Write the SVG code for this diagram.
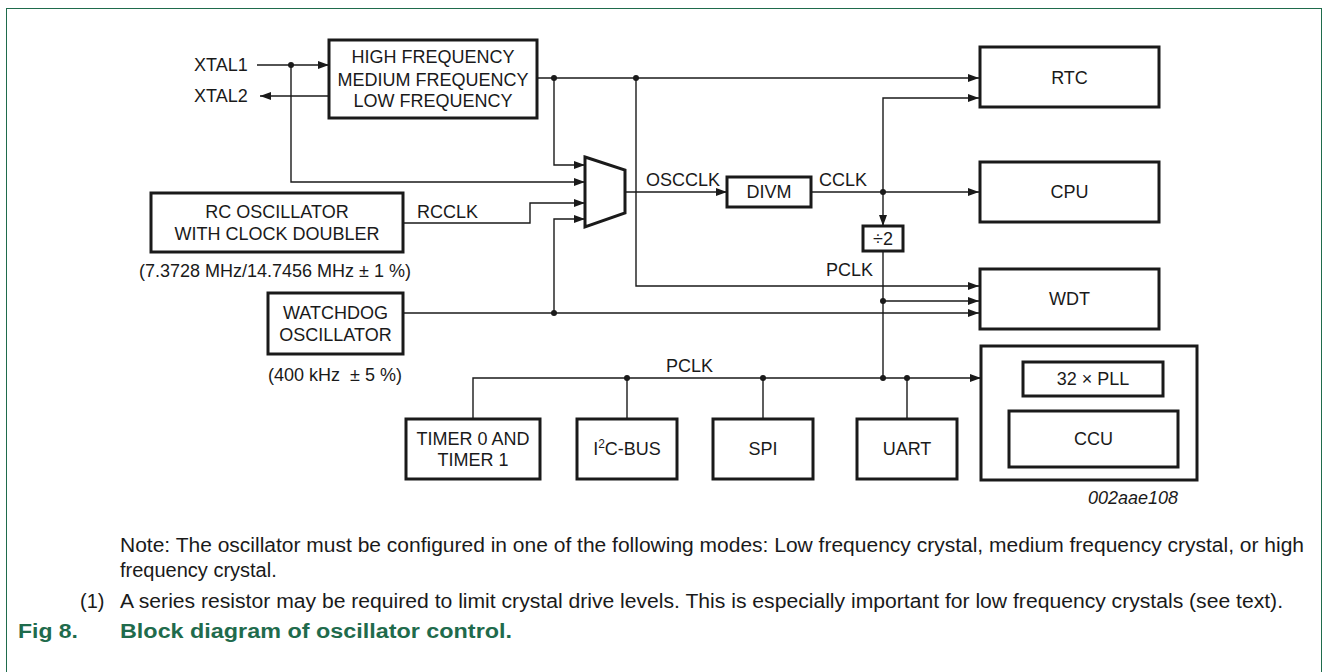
<svg xmlns="http://www.w3.org/2000/svg" width="1328" height="672" viewBox="0 0 1328 672">
<style>
text{font-family:"Liberation Sans",Arial,sans-serif;font-size:18px;fill:#1a1a1a}
.c{text-anchor:middle}
.box{fill:#fff;stroke:#1a1a1a;stroke-width:3}
.ln{fill:none;stroke:#1a1a1a;stroke-width:1.4}
.ar{marker-end:url(#ah)}
.dot{fill:#1a1a1a}
.note{font-size:20px}
.cap{font-weight:bold;fill:#1f6b4c;font-size:20px}
</style>
<defs>
<marker id="ah" markerUnits="userSpaceOnUse" markerWidth="11" markerHeight="8" refX="11" refY="4" orient="auto">
<path d="M0,0 L11,4 L0,8 z" fill="#1a1a1a"/>
</marker>
</defs>
<rect width="1328" height="672" fill="#fff"/>
<rect x="6.5" y="8.5" width="1315" height="680" fill="none" stroke="#1f6b4c" stroke-width="1"/>

<g id="connectors">
<path class="ln ar" d="M257,65 H329"/>
<path class="ln ar" d="M329,96 H260"/>
<path class="ln ar" d="M291,65 V182 H585"/>
<path class="ln ar" d="M537,78 H979"/>
<path class="ln ar" d="M554,78 V165 H585"/>
<path class="ln ar" d="M403,223 H530 V203 H585"/>
<path class="ln ar" d="M403,313 H979"/>
<path class="ln ar" d="M554,313 V219 H585"/>
<path class="ln ar" d="M636,78 V286 H979"/>
<path class="ln ar" d="M625,192 H727"/>
<path class="ln ar" d="M811,192 H979"/>
<path class="ln ar" d="M883,192 V98 H979"/>
<path class="ln ar" d="M883,192 V226"/>
<path class="ln" d="M883,251 V378"/>
<path class="ln ar" d="M883,301 H979"/>
<path class="ln ar" d="M473,419 V378 H981"/>
<path class="ln" d="M981,378 H1023"/>
<path class="ln" d="M997,378 V431 H1009"/>
<path class="ln" d="M627,378 V419 M763,378 V419 M907,378 V419"/>
<path class="ln" d="M1094,396 V411"/>
<circle class="dot" cx="291" cy="65" r="3"/>
<circle class="dot" cx="554" cy="78" r="3"/>
<circle class="dot" cx="636" cy="78" r="3"/>
<circle class="dot" cx="554" cy="313" r="3"/>
<circle class="dot" cx="883" cy="192" r="3"/>
<circle class="dot" cx="883" cy="301" r="3"/>
<circle class="dot" cx="883" cy="378" r="3"/>
<circle class="dot" cx="627" cy="378" r="3"/>
<circle class="dot" cx="763" cy="378" r="3"/>
<circle class="dot" cx="907" cy="378" r="3"/>
<circle class="dot" cx="997" cy="378" r="3"/>
<text x="194" y="71">XTAL1</text>
<text x="194" y="102">XTAL2</text>
<text x="417" y="218">RCCLK</text>
<text x="646" y="186">OSCCLK</text>
<text x="819" y="186">CCLK</text>
<text x="873" y="276" text-anchor="end">PCLK</text>
<text x="666" y="372">PCLK</text>
</g>

<g id="osc">
<rect class="box" x="329" y="40" width="208" height="78"/>
<text class="c" x="433" y="63">HIGH FREQUENCY</text>
<text class="c" x="433" y="86">MEDIUM FREQUENCY</text>
<text class="c" x="433" y="107">LOW FREQUENCY</text>
</g>
<g id="rcosc">
<rect class="box" x="151" y="193" width="252" height="59"/>
<text class="c" x="277" y="218">RC OSCILLATOR</text>
<text class="c" x="277" y="240">WITH CLOCK DOUBLER</text>
<text class="c" x="275" y="277">(7.3728 MHz/14.7456 MHz ± 1 %)</text>
</g>
<g id="wdosc">
<rect class="box" x="268" y="293" width="135" height="61"/>
<text class="c" x="335.5" y="319">WATCHDOG</text>
<text class="c" x="335.5" y="341">OSCILLATOR</text>
<text class="c" x="335" y="381">(400 kHz&#160; ± 5 %)</text>
</g>
<g id="mux">
<polygon points="585,157 625,170 625,213 585,227" fill="#fff" stroke="#1a1a1a" stroke-width="3"/>
</g>
<g id="divm">
<rect class="box" x="727" y="177" width="84" height="30"/>
<text class="c" x="769" y="198">DIVM</text>
</g>
<g id="div2">
<rect class="box" x="863" y="226" width="40" height="25"/>
<text class="c" x="883" y="245">÷2</text>
</g>
<g id="rtc">
<rect class="box" x="980" y="47" width="179" height="60"/>
<text class="c" x="1069.5" y="84">RTC</text>
</g>
<g id="cpu">
<rect class="box" x="980" y="162" width="179" height="60"/>
<text class="c" x="1069.5" y="198">CPU</text>
</g>
<g id="wdt">
<rect class="box" x="980" y="269" width="179" height="60"/>
<text class="c" x="1069.5" y="305">WDT</text>
</g>
<g id="timer">
<rect class="box" x="406" y="419" width="134" height="60"/>
<text class="c" x="473" y="445">TIMER 0 AND</text>
<text class="c" x="473" y="466">TIMER 1</text>
</g>
<g id="i2c">
<rect class="box" x="577" y="419" width="100" height="60"/>
<text class="c" x="627" y="455">I<tspan font-size="12" dy="-7">2</tspan><tspan dy="7">C-BUS</tspan></text>
</g>
<g id="spi">
<rect class="box" x="713" y="419" width="100" height="60"/>
<text class="c" x="763" y="455">SPI</text>
</g>
<g id="uart">
<rect class="box" x="857" y="419" width="100" height="60"/>
<text class="c" x="907" y="455">UART</text>
</g>
<g id="pllblock">
<rect class="box" x="981" y="346" width="216" height="134"/>
<rect class="box" x="1023" y="362" width="140" height="34"/>
<text class="c" x="1093" y="385">32 × PLL</text>
<rect class="box" x="1009" y="411" width="169" height="56"/>
<text class="c" x="1093.5" y="445">CCU</text>
</g>
<text x="1178" y="504" text-anchor="end" font-style="italic" font-size="16">002aae108</text>

<g id="notes">
<text class="note" x="120" y="552" textLength="1184" lengthAdjust="spacingAndGlyphs">Note: The oscillator must be configured in one of the following modes: Low frequency crystal, medium frequency crystal, or high</text>
<text class="note" x="120" y="577">frequency crystal.</text>
<text class="note" x="80" y="608">(1)</text>
<text class="note" x="120" y="608" textLength="1163" lengthAdjust="spacingAndGlyphs">A series resistor may be required to limit crystal drive levels. This is especially important for low frequency crystals (see text).</text>
<text class="cap" x="18" y="638" textLength="60" lengthAdjust="spacingAndGlyphs">Fig 8.</text>
<text class="cap" x="120" y="638" textLength="392" lengthAdjust="spacingAndGlyphs">Block diagram of oscillator control.</text>
</g>
</svg>
